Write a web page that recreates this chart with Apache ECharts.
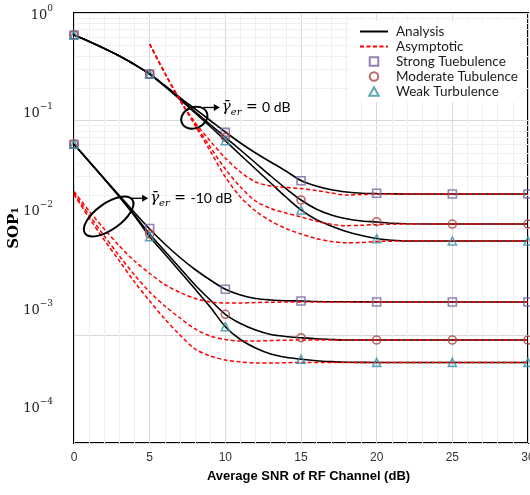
<!DOCTYPE html>
<html><head><meta charset="utf-8">
<script src="https://cdn.jsdelivr.net/npm/echarts@6/dist/echarts.min.js"></script>
<style>html,body{margin:0;padding:0;background:#fff}#c{width:530px;height:495px}</style>
</head><body><div id="c"></div><script>
// ---------- data ----------
const xTicksInterval = 5;
const yTickExponents = [0, -1, -2, -3, -4];

// gamma_er = 0 dB : analysis curves
const snrA1 = [0,1,2,3,4,5,6,7,8,9,10,11,12,13,14,15,16,17,18,19,20,21,22,25,30];
const strongA1 = [0.624,0.543,0.4675,0.3981,0.3318,0.2707,0.2117,0.1636,0.1280,0.1,0.07816,0.06176,0.04985,0.04111,0.03390,0.02766,0.02459,0.02267,0.02162,0.02103,0.02089,0.0208,0.02072,0.02072,0.02072];
const moderateA1 = [0.624,0.543,0.4675,0.3981,0.3318,0.2707,0.2094,0.1602,0.1213,0.0918,0.06977,0.05316,0.04024,0.03046,0.02331,0.01822,0.01502,0.01321,0.01218,0.01162,0.01137,0.01106,0.01094,0.01089,0.01089];
const weakA1 = [0.624,0.543,0.4675,0.3981,0.3318,0.2707,0.2072,0.1568,0.1174,0.08796,0.06489,0.04776,0.03538,0.02622,0.01942,0.01471,0.01200,0.01044,0.009277,0.008517,0.007985,0.0077,0.00757,0.00757,0.00757];
// gamma_er = 0 dB : asymptotic curves
const snrR1 = [5,6,7,8,9,10,11,12,13,14,15,16,17,18,19,20,22,25,30];
const strongR1 = [0.5148,0.2766,0.1551,0.09581,0.06446,0.04479,0.03318,0.02678,0.02459,0.02381,0.02331,0.02233,0.02117,0.02028,0.02050,0.02072,0.02072,0.02072,0.02072];
const moderateR1 = [0.5148,0.2766,0.1551,0.09277,0.05669,0.03538,0.02407,0.01783,0.01519,0.01379,0.01266,0.01162,0.01085,0.01051,0.01060,0.01078,0.01089,0.01089,0.01089];
const weakR1 = [0.5148,0.2766,0.1551,0.08985,0.05203,0.02981,0.01942,0.01440,0.01162,0.009892,0.008796,0.007985,0.007489,0.007283,0.00733,0.007489,0.00757,0.00757,0.00757];

// gamma_er = -10 dB : analysis curves
const snrA2 = [0,1,2,3,4,5,6,7,8,9,10,11,12,13,14,15,16,17,18,20,25,30];
const strongA2 = [0.06006,0.04155,0.02887,0.02006,0.01394,0.009788,0.007099,0.005316,0.004111,0.003283,0.00269,0.002381,0.002209,0.002139,0.002103,0.002094,0.00207,0.00206,0.00206,0.00205,0.00205,0.00205];
const moderateA2 = [0.06006,0.04155,0.02856,0.01963,0.01321,0.008796,0.00611,0.004245,0.00295,0.002139,0.001575,0.001293,0.001125,0.001022,0.000979,0.000954,0.000932,0.000918,0.000908,0.000908,0.000908,0.000908];
const weakA2 = [0.06006,0.04155,0.02856,0.01942,0.01293,0.0083,0.005729,0.003938,0.002707,0.001841,0.001208,0.000918,0.000765,0.000673,0.000627,0.000601,0.000582,0.000571,0.000564,0.000561,0.000561,0.000561];
// gamma_er = -10 dB : asymptotic curves
const snrR2 = [0,1,2,3,4,5,6,7,8,9,10,11,12,13,15,20,25,30];
const strongR2 = [0.02186,0.0144,0.009788,0.006802,0.004932,0.003773,0.002981,0.002512,0.002209,0.00205,0.002006,0.002006,0.002028,0.00204,0.00205,0.00205,0.00205,0.00205];
const moderateR2 = [0.02117,0.01321,0.008427,0.005489,0.003655,0.002539,0.001881,0.001455,0.00115,0.000989,0.000918,0.000889,0.000889,0.000898,0.000908,0.000908,0.000908,0.000908];
const weakR2 = [0.0205,0.01239,0.007733,0.004932,0.003145,0.002094,0.001424,0.001011,0.000749,0.000645,0.000592,0.000567,0.000555,0.000555,0.000561,0.000561,0.000561,0.000561];

// simulation markers
const snrM = [0,5,10,15,20,25,30];
const strongM1 = [0.624,0.2707,0.0776,0.02754,0.02103,0.02072,0.02072];
const moderateM1 = [0.624,0.2707,0.0698,0.01822,0.01145,0.01089,0.01089];
const weakM1 = [0.624,0.2707,0.0649,0.01471,0.007953,0.00757,0.00757];
const strongM2 = [0.06006,0.009892,0.00269,0.002094,0.00205,0.00205,0.00205];
const moderateM2 = [0.06006,0.008796,0.001575,0.000954,0.000908,0.000908,0.000908];
const weakM2 = [0.06006,0.0083,0.001208,0.000601,0.000562,0.000562,0.000562];

const legendNames = ['Analysis','Asymptotic','Strong Tuebulence','Moderate Tubulence','Weak Turbulence'];
const annotations = [
  {center:[7.95, 0.1062], rx:13.5, ry:10.5, rot:0.4, arrow:[9, 25.5, -10.2], text:'0 dB'},
  {center:[2.29, 0.0128], rx:29, ry:13, rot:0.62, arrow:[23, 39.5, -18.2], text:'-10 dB'}
];

// ---------- chart ----------
const zip = (xs, ys) => xs.map((x, i) => [x, ys[i]]);
const serif = "'DejaVu Serif','Liberation Serif',serif";
const sans = "Lato,'Open Sans',sans-serif";
const SQUARE = 'path://M0,0H10V10H0Z';
const TRI = 'path://M5,0L10,9H0Z';

const blackLine = (d) => ({type:'line', name:'Analysis', data:d, symbol:'none', smooth:0.3, z:3,
  lineStyle:{color:'#000', width:1.6}, itemStyle:{color:'#000'}, silent:true, animation:false});
const redLine = (d) => ({type:'line', name:'Asymptotic', data:d, symbol:'none', smooth:0.3, z:4,
  lineStyle:{color:'#ff0000', width:1.5, type:[4,2.5]}, itemStyle:{color:'#ff0000'}, silent:true, animation:false});
const markers = (name, sym, col, d) => ({type:'scatter', name, data:d, symbol:sym, symbolSize: 8,
  symbolKeepAspect:true, z:5, itemStyle:{color:'rgba(255,255,255,0)', borderColor:col, borderWidth:1.6}, silent:true, animation:false});

const minorVals = [];
for (let k = -4; k <= -1; k++) for (let m = 2; m <= 9; m++) minorVals.push({yAxis: m * Math.pow(10, k)});

const hiddenSym = {color:'rgba(0,0,0,0)', borderColor:'rgba(0,0,0,0)', borderWidth:0, opacity:0};
const legendData = [
  {name:legendNames[0], itemStyle:hiddenSym},
  {name:legendNames[1], itemStyle:hiddenSym},
  {name:legendNames[2], icon:SQUARE, symbolKeepAspect:true},
  {name:legendNames[3], icon:'circle', symbolKeepAspect:true},
  {name:legendNames[4], icon:TRI, symbolKeepAspect:true}
];

const chart = echarts.init(document.getElementById('c'), null, {renderer:'canvas'});
const option = {
  animation:false,
  backgroundColor:'#fff',
  grid:{left:74, right:2, top:13, bottom:52, show:true, borderColor:'#000', borderWidth:2, backgroundColor:'rgba(0,0,0,0)', containLabel:false, outerBoundsMode:'none'},
  legend:{orient:'vertical', left:349, top:21, itemWidth:28, itemHeight:8.5, itemGap:0, padding:[3,8,3,10], z:20,
    backgroundColor:'#fff', data:legendData, selectedMode:false, symbolKeepAspect:true,
    textStyle:{fontFamily:sans, fontSize:13.5, color:'#1a1a1a', lineHeight:15, padding:[0,0,0,3]}},
  xAxis:{type:'value', min:0, max:30, interval:xTicksInterval,
    name:'Average SNR of RF Channel (dB)', nameLocation:'middle', nameGap:27,
    nameTextStyle:{fontFamily:"'Liberation Sans',Arial,sans-serif", fontWeight:'bold', fontSize:13, color:'#000', padding:[0,0,0,15]},
    axisLine:{show:false}, axisTick:{show:false},
    axisLabel:{margin:9, fontFamily:"'Liberation Sans',Arial,sans-serif", fontSize:12, color:'#333', showMaxLabel:true},
    splitLine:{show:true, lineStyle:{color:'#d9d9d9', width:1}},
    minorTick:{show:false, splitNumber:5},
    minorSplitLine:{show:true, lineStyle:{color:'#efefef', width:1}}},
  yAxis:[
    {type:'log', logBase:10, min:1e-4, max:1,
     name:'SOP₁', nameLocation:'middle', nameGap:52, nameRotate:90,
     nameTextStyle:{fontFamily:serif, fontWeight:'bold', fontSize:15, color:'#000'},
     axisLine:{show:false}, axisTick:{show:false}, axisLabel:{show:false},
     splitLine:{show:true, lineStyle:{color:'#d9d9d9', width:1}}},
    {type:'log', logBase:10, min:Math.pow(10,-4.374), max:1, position:'left',
     axisLine:{show:false}, axisTick:{show:false}, splitLine:{show:false},
     axisLabel:{margin:21, formatter:(v) => {
        const e = Math.log10(v); const r = Math.round(e);
        if (Math.abs(e - r) > 1e-6 || yTickExponents.indexOf(r) < 0) return '';
        return '{n|10}{e|' + (r === 0 ? '0' : '−' + (-r)) + '}';
      },
      rich:{n:{fontFamily:serif, fontSize:13, color:'#222', lineHeight:18, verticalAlign:'bottom'},
            e:{fontFamily:serif, fontSize:9, color:'#222', lineHeight:11, verticalAlign:'top'}}}}
  ],
  series:[
    {type:'line', name:'_minor', data:[], z:1, silent:true, animation:false,
     markLine:{z:1, silent:true, symbol:['none','none'], label:{show:false}, animation:false,
       lineStyle:{color:'#efefef', width:1, type:'solid'}, data:minorVals}},
    blackLine(zip(snrA1, strongA1)), blackLine(zip(snrA1, moderateA1)), blackLine(zip(snrA1, weakA1)),
    blackLine(zip(snrA2, strongA2)), blackLine(zip(snrA2, moderateA2)), blackLine(zip(snrA2, weakA2)),
    redLine(zip(snrR1, strongR1)), redLine(zip(snrR1, moderateR1)), redLine(zip(snrR1, weakR1)),
    redLine(zip(snrR2, strongR2)), redLine(zip(snrR2, moderateR2)), redLine(zip(snrR2, weakR2)),
    markers('Strong Tuebulence', 'rect', '#7c62a0', zip(snrM, strongM1).concat(zip(snrM, strongM2))),
    markers('Moderate Tubulence', 'circle', '#a8443e', zip(snrM, moderateM1).concat(zip(snrM, moderateM2))),
    markers('Weak Turbulence', 'triangle', '#3a8fa8', zip(snrM, weakM1).concat(zip(snrM, weakM2)))
  ]
};
chart.setOption(option);

// annotations (ellipses, arrows, labels) anchored to data coordinates
const g = [];
annotations.forEach(a => {
  const c = chart.convertToPixel({xAxisIndex:0, yAxisIndex:0}, a.center);
  g.push({type:'ellipse', x:c[0], y:c[1], rotation:a.rot, shape:{cx:0, cy:0, rx:a.rx, ry:a.ry},
    style:{fill:'none', stroke:'#000', lineWidth:2}, z:10, silent:true});
  const y = c[1] + a.arrow[2], x0 = c[0] + a.arrow[0], x1 = c[0] + a.arrow[1];
  g.push({type:'line', shape:{x1:x0, y1:y, x2:x1 - 5, y2:y}, style:{stroke:'#000', lineWidth:1.3}, z:10, silent:true});
  g.push({type:'polygon', shape:{points:[[x1 - 6, y - 3.5],[x1, y],[x1 - 6, y + 3.5]]}, style:{fill:'#000'}, z:10, silent:true});
  g.push({type:'text', x:x1 + 2, y:y, z:10, silent:true,
    style:{text:'{g|γ̄}{s|er}{t| = }{d|' + a.text + '}', verticalAlign:'middle', align:'left',
      rich:{g:{fontFamily:serif, fontStyle:'italic', fontSize:15, fill:'#000', lineHeight:20, verticalAlign:'middle'},
            s:{fontFamily:serif, fontStyle:'italic', fontSize:10, fill:'#000', lineHeight:20, verticalAlign:'bottom'},
            t:{fontFamily:serif, fontSize:14, fill:'#000', lineHeight:20, verticalAlign:'middle'},
            d:{fontFamily:sans, fontSize:14, fill:'#000', lineHeight:20, verticalAlign:'middle'}}}});
});
chart.setOption({graphic:g});
</script></body></html>
